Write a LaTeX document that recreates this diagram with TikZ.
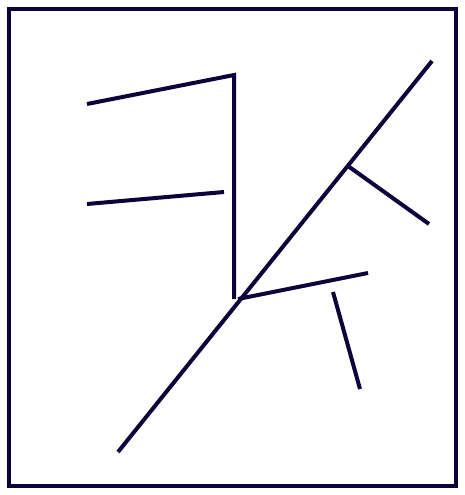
\documentclass[tikz,border=0pt]{standalone}
\definecolor{ink}{RGB}{10,4,58}
\begin{document}
\begin{tikzpicture}[x=1pt,y=-1pt,
  stroke/.style={draw=ink,line width=4pt}]
\useasboundingbox (0,0) rectangle (465,495);
\draw[stroke] (9,9) rectangle (456,486);
\coordinate (a1) at (87,104);
\coordinate (a2) at (234,75);
\coordinate (a3) at (234,299);
\coordinate (b1) at (87,204);
\coordinate (b2) at (224,192);
\coordinate (d1) at (118,452);
\coordinate (d2) at (432,61);
\coordinate (j1) at (348,166);
\coordinate (e1) at (429,224);
\coordinate (j2) at (238,299);
\coordinate (f1) at (368,273);
\coordinate (g1) at (333,292);
\coordinate (g2) at (360,389);
\draw[stroke] (a1) -- (a2) -- (a3);
\draw[stroke] (b1) -- (b2);
\draw[stroke] (d1) -- (d2);
\draw[stroke] (j1) -- (e1);
\draw[stroke] (j2) -- (f1);
\draw[stroke] (g1) -- (g2);
\end{tikzpicture}
\end{document}
